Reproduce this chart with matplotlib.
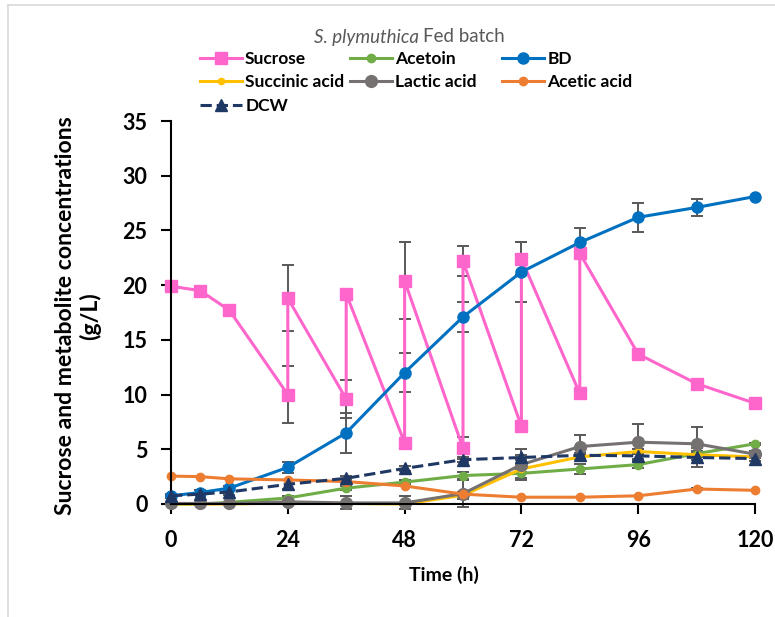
import matplotlib.pyplot as plt
from matplotlib.lines import Line2D

plt.rcParams['font.family'] = ['Lato', 'DejaVu Sans']

# sampling times (h)
time = [0, 6, 12, 24, 36, 48, 60, 72, 84, 96, 108, 120]

# sucrose has a before/after value at every feeding time
sucrose_time = [0, 6, 12, 24, 24, 36, 36, 48, 48, 60, 60, 72, 72, 84, 84, 96, 108, 120]
sucrose = [19.9, 19.5, 17.7, 10.0, 18.8, 9.6, 19.2, 5.6, 20.4, 5.1, 22.2, 7.1, 22.4, 10.1, 22.9, 13.7, 11.0, 9.2]
sucrose_err = [0, 0, 0, 2.6, 3.0, 1.7, 0.3, 0.4, 3.5, 1.0, 1.4, 0, 1.5, 0, 0, 0, 0, 0]

acetoin = [0.0, 0.0, 0.15, 0.55, 1.45, 2.0, 2.6, 2.8, 3.2, 3.6, 4.6, 5.5]
acetoin_err = [0, 0, 0, 0.2, 0.2, 0.2, 0.3, 0.4, 0.45, 0.3, 0.2, 0.1]
bd = [0.75, 1.05, 1.45, 3.35, 6.5, 12.0, 17.1, 21.2, 23.9, 26.2, 27.1, 28.1]
bd_err = [0.2, 0.2, 0.2, 0.5, 1.85, 1.8, 1.35, 2.7, 1.3, 1.3, 0.8, 0]
succinic = [0.0, 0.0, 0.0, 0.1, 0.05, 0.0, 0.8, 3.2, 4.3, 4.8, 4.5, 4.3]
succinic_err = [0, 0, 0, 0, 0, 0, 0.3, 0.3, 0.2, 0.2, 0.2, 0.1]
lactic = [0.05, 0.05, 0.05, 0.2, 0.1, 0.1, 0.95, 3.6, 5.25, 5.65, 5.5, 4.55]
lactic_err = [0, 0, 0, 0.1, 0.6, 0.6, 1.2, 1.4, 1.1, 1.7, 1.5, 0.3]
acetic = [2.55, 2.5, 2.3, 2.2, 2.05, 1.65, 0.9, 0.62, 0.62, 0.75, 1.37, 1.25]
acetic_err = [0, 0, 0, 0, 0, 0, 0, 0, 0, 0, 0.1, 0]
dcw = [0.75, 0.9, 1.1, 1.8, 2.35, 3.25, 4.05, 4.25, 4.45, 4.4, 4.25, 4.15]
dcw_err = [0.1, 0.1, 0.3, 0.4, 0.2, 0.2, 0.2, 0.2, 0.2, 0.3, 0.9, 0.2]

# name, x, y, err, colour, marker, marker size, linestyle
series = [
    ("Sucrose", sucrose_time, sucrose, sucrose_err, "#FF66CC", "s", 8.5, "-"),
    ("Acetoin", time, acetoin, acetoin_err, "#70AD47", "o", 6, "-"),
    ("BD", time, bd, bd_err, "#0070C0", "o", 8, "-"),
    ("Succinic acid", time, succinic, succinic_err, "#FFC000", "o", 4.5, "-"),
    ("Lactic acid", time, lactic, lactic_err, "#767171", "o", 8.5, "-"),
    ("Acetic acid", time, acetic, acetic_err, "#ED7D31", "o", 6, "-"),
    ("DCW", time, dcw, dcw_err, "#203864", "^", 8, "--"),
]

W, H = 775, 617
fig = plt.figure(figsize=(W / 100, H / 100), dpi=100)
ax = fig.add_axes([171 / W, 1 - 504 / H, (755 - 171) / W, (504 - 121) / H])

handles = {}
for i, (name, x, y, err, color, marker, ms, ls) in enumerate(series):
    ex = [a for a, e in zip(x, err) if e > 0]
    ey = [b for b, e in zip(y, err) if e > 0]
    ee = [e for e in err if e > 0]
    ax.errorbar(ex, ey, yerr=ee, fmt="none", ecolor="#595959", elinewidth=1.4,
                capsize=4, capthick=1.4, zorder=1.5, clip_on=False)
    line, = ax.plot(x, y, color=color, marker=marker, markersize=ms, linestyle=ls,
                    linewidth=2.2, markeredgecolor=color, zorder=2 + i * 0.1,
                    clip_on=False, label=name)
    handles[name] = line

ax.set_xlim(0, 120)
ax.set_ylim(0, 35)
ax.set_xticks(range(0, 121, 24))
ax.set_yticks(range(0, 36, 5))
for s in ["top", "right"]:
    ax.spines[s].set_visible(False)
for s in ["left", "bottom"]:
    ax.spines[s].set_linewidth(1.5)
ax.tick_params(axis="both", direction="out", length=7, width=1.5, labelsize=15.5)
ax.tick_params(axis="y", pad=10)
ax.tick_params(axis="x", pad=12)
for lbl in ax.get_xticklabels() + ax.get_yticklabels():
    lbl.set_fontweight("bold")

fig.text(444 / W, 1 - 575 / H, "Time (h)", ha="center", va="center",
         fontsize=14, fontweight="bold")
fig.text(78 / W, 1 - 316 / H, "Sucrose and metabolite concentrations\n(g/L)",
         rotation=90, ha="center", va="center", multialignment="center",
         fontsize=16.6, fontweight="bold", linespacing=1.15)

fig.text(419 / W, 1 - 37 / H, "S. plymuthica", style="italic", ha="right",
         va="center", color="#595959", fontsize=13.5)
fig.text(423 / W, 1 - 37 / H, "Fed batch", ha="left", va="center",
         color="#595959", fontsize=13.5)

columns = [
    (["Sucrose", "Succinic acid", "DCW"], 200),
    (["Acetoin", "Lactic acid"], 350),
    (["BD", "Acetic acid"], 502),
]
for names, xpx in columns:
    hs = []
    for n in names:
        h = handles[n]
        hs.append(Line2D([], [], color=h.get_color(), marker=h.get_marker(),
                         markersize=h.get_markersize(), linestyle=h.get_linestyle(),
                         linewidth=2.2, markeredgecolor=h.get_color()))
    fig.legend(handles=hs, labels=names, loc="upper left",
               bbox_to_anchor=(xpx / W, 1 - 51 / H), frameon=False,
               borderpad=0, borderaxespad=0, handlelength=2.4, handletextpad=0.2,
               labelspacing=0.42, prop={"weight": "bold", "size": 12.5})

# light chart-area border
fig.add_artist(Line2D([8 / W, 8 / W], [0, 1 - 5 / H], color="#D9D9D9", lw=1.2,
                      transform=fig.transFigure))
fig.add_artist(Line2D([8 / W, 1], [1 - 5 / H, 1 - 5 / H], color="#D9D9D9", lw=1.2,
                      transform=fig.transFigure))

fig.savefig("out.png", dpi=100)
